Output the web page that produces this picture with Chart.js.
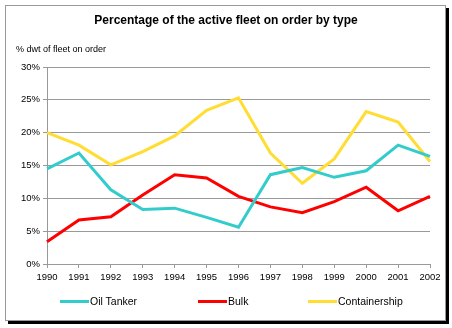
<!DOCTYPE html>
<html>
<head>
<meta charset="utf-8">
<script src="https://cdn.jsdelivr.net/npm/chart.js@4"></script>
<style>
    html, body { margin: 0; padding: 0; background: #fff; }
    body { width: 452px; height: 328px; position: relative; overflow: hidden; font-family: "Liberation Sans", Arial, sans-serif; }
    #frame { position: absolute; left: 5px; top: 5px; width: 439px; height: 314px; border: 1px solid #999; box-shadow: 3px 3px 0 #000; }
    #chartBox { position: absolute; left: 0; top: 0; width: 452px; height: 328px; }
    #title { position: absolute; left: 0; width: 452px; top: 13px; text-align: center; font-weight: bold; font-size: 12px; color: #000; }
    #ylabel { position: absolute; left: 16px; top: 44px; font-size: 9px; color: #000; }
    .leg { position: absolute; top: 295px; font-size: 10.5px; color: #000; white-space: nowrap; }
    .leg i { display: inline-block; width: 29px; height: 3px; vertical-align: middle; margin-right: 1px; position: relative; top: -1px; }
</style>
</head>
<body>
<div id="frame"></div>
<div id="chartBox"><canvas id="chart" width="452" height="328"></canvas></div>
<div id="title">Percentage of the active fleet on order by type</div>
<div id="ylabel">% dwt of fleet on order</div>
<div class="leg" style="left:60px"><i style="background:#33CCCC"></i>Oil Tanker</div>
<div class="leg" style="left:198px"><i style="background:#FF0000"></i>Bulk</div>
<div class="leg" style="left:308px"><i style="background:#FFDD33"></i>Containership</div>
<script>
// ================= Data =================
const years = ['1990','1991','1992','1993','1994','1995','1996','1997','1998','1999','2000','2001','2002'];
const oilTanker = [14.5, 16.9, 11.3, 8.3, 8.5, 7.1, 5.6, 13.6, 14.7, 13.2, 14.2, 18.1, 16.4];
const bulk = [3.4, 6.7, 7.2, 10.5, 13.6, 13.1, 10.3, 8.7, 7.8, 9.5, 11.7, 8.1, 10.3];
const containership = [20.0, 18.1, 15.1, 17.1, 19.5, 23.4, 25.3, 16.9, 12.3, 16.0, 23.2, 21.6, 15.6];

function series(label, data, color) {
    return { label, data, borderColor: color, backgroundColor: color, borderWidth: 3, pointRadius: 0, tension: 0, fill: false };
}

const tickFont = { family: 'Liberation Sans, Arial, sans-serif', size: 9.5 };

new Chart(document.getElementById('chart').getContext('2d'), {
    type: 'line',
    data: {
        labels: years,
        datasets: [
            series('Oil Tanker', oilTanker, '#33CCCC'),
            series('Bulk', bulk, '#FF0000'),
            series('Containership', containership, '#FFDD33')
        ]
    },
    options: {
        responsive: false,
        animation: false,
        layout: { padding: { left: 0, right: 22, top: 67, bottom: 44 } },
        plugins: { legend: { display: false }, tooltip: { enabled: false } },
        scales: {
            x: {
                offset: false,
                grid: { drawOnChartArea: false, drawTicks: true, tickLength: 4, tickColor: '#999' },
                border: { color: '#999', width: 1 },
                ticks: { color: '#000', font: tickFont, maxRotation: 0, autoSkip: false, padding: 4 },
                afterFit: s => { s.height = 20; }
            },
            y: {
                min: 0, max: 30,
                grid: { color: '#999', lineWidth: 1, drawTicks: true, tickLength: 4, tickColor: '#999' },
                border: { color: '#999', width: 1 },
                ticks: { stepSize: 5, color: '#000', font: tickFont, padding: 3, callback: v => v + '%' },
                afterFit: s => { s.width = 47; }
            }
        }
    }
});
</script>
</body>
</html>
